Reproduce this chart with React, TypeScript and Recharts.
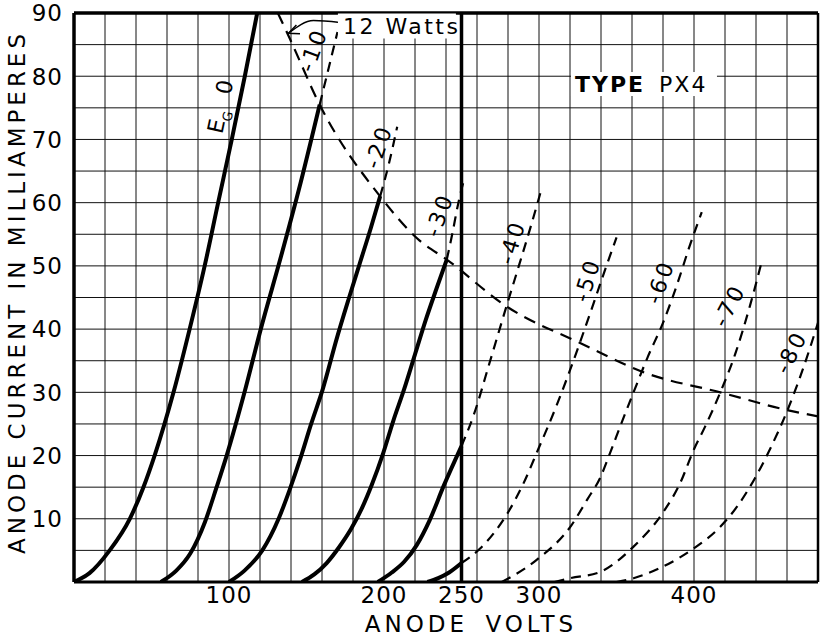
import { ComposedChart, Line, Scatter, XAxis, YAxis, CartesianGrid, ReferenceLine, Label } from 'recharts';

// anode volts / milliamps pairs
const egZero: number[][] = [[0, 0], [10, 1.4], [23, 5], [36, 10], [44.8, 15], [52, 20], [64.2, 30], [74.6, 40], [84.3, 50], [93, 60], [101.8, 70], [110.2, 80], [118.2, 90]];
const egMinus10: number[][] = [[56, 0], [66, 1.8], [75, 4.5], [84.5, 9.5], [92, 15], [98.5, 20], [110, 30], [120.5, 40], [133, 51], [145, 62], [158.5, 75.5]];
const egMinus10Over: number[][] = [[158.5, 75.5], [164, 81], [170, 87]];
const egMinus20: number[][] = [[100, 0], [110, 1.8], [121.5, 5], [132, 10], [139, 14.5], [146, 19.5], [153, 25], [160.5, 30.5], [169.5, 38.5], [177.5, 45], [184.5, 50.5], [191.5, 56], [197.5, 61]];
const egMinus20Over: number[][] = [[197.5, 61], [203, 66], [208.5, 72]];
const egMinus30: number[][] = [[147, 0], [155, 1.2], [163, 3], [171, 5.5], [179, 8.5], [186, 11.8], [192, 15.3], [199.5, 20.4], [206, 25.5], [213, 30.5], [220, 36], [227, 41.5], [234, 46.5], [240.5, 51]];
const egMinus30Over: number[][] = [[240.5, 51], [244, 55], [248, 60], [252, 64]];
const egMinus40: number[][] = [[196, 0], [205, 1.5], [213, 3.2], [221, 5.8], [229.5, 9.8], [238.5, 15.2], [250, 21.5]];
const egMinus40Over: number[][] = [[250, 21.5], [258, 26.5], [268.5, 35], [279, 43.6], [287, 50], [295, 56.5], [302, 62.5]];
const egMinus50: number[][] = [[228, 0], [235, 0.6], [242, 1.5], [250, 3]];
const egMinus50Over: number[][] = [[250, 3], [262, 5.3], [280, 11], [290, 15.6], [299.5, 21], [311, 27.7], [320, 33.5], [333, 42.5], [343.5, 50], [350, 54.5]];
const egMinus60Over: number[][] = [[276, 0], [298.5, 3.5], [321, 9], [331, 13], [339.5, 16.5], [346, 20.5], [353, 25], [361, 30], [370, 35.5], [380, 41], [389, 47], [397, 53], [405, 58.5]];
const egMinus70Over: number[][] = [[310, 0], [320, 0.6], [339.5, 1.6], [361, 5.6], [380, 11], [391, 15.6], [400, 21], [407, 24.5], [417, 30], [426.5, 36], [436, 43.6], [443.5, 50.5]];
const egMinus80Over: number[][] = [[350, 0], [361, 0.6], [378, 2.2], [401.5, 5.6], [416, 8.5], [428, 12], [439.5, 16.5], [449, 21], [460, 27], [470, 33.5], [480, 41]];
const twelveWatts: number[][] = [[131.5, 90], [139.5, 85.8], [158.5, 75.5], [197.5, 61], [223, 54], [240.5, 51], [279, 43.6], [326.5, 37.8], [369.5, 33], [417, 30], [460, 27.2], [480, 26.2]];
const arrowShaft: number[][] = [[138.3, 86.8], [154.5, 88.8], [171.5, 88.5]];
const arrowHead: number[][] = [[143.5, 88.1], [138.3, 86.8], [145.8, 86.7]];

const xGridTicks = [0, 20, 40, 60, 80, 100, 120, 140, 160, 180, 200, 220, 240, 250, 260, 280, 300, 320, 340, 360, 380, 400, 420, 440, 460, 480];
const xTickLabels = [100, 200, 250, 300, 400];
const yGridTicks = [0, 5, 10, 15, 20, 25, 30, 35, 40, 45, 50, 55, 60, 65, 70, 75, 80, 85, 90];
const yTickLabels = [10, 20, 30, 40, 50, 60, 70, 80, 90];

const curveNames = ['-10', '-20', '-30', '-40', '-50', '-60', '-70', '-80'];
const curveLabelV = [154.2, 196.3, 235.5, 282.4, 330.8, 378.1, 422.6, 462.6];
const curveLabelI = [84.2, 68.9, 58.1, 53.8, 47.8, 47.5, 43.8, 36.4];
const curveLabelTilt = [-70, -71, -70, -73, -73, -70, -62, -63];

const FONT = '"DejaVu Sans", sans-serif';

const pts = (arr: number[][]) => arr.map(([v, i]) => ({ v, i }));

const curveLabels = curveNames.map((text, k) => ({ v: curveLabelV[k], i: curveLabelI[k], text, angle: curveLabelTilt[k] }));
const gridZeroLabel = [{ v: 94.2, i: 75.2 }];
const wattsLabel = [{ v: 173.5, i: 86.6 }];
const typeLabel = [{ v: 323.2, i: 77.5 }];

function YTick(p: any) {
  if (!yTickLabels.includes(p.payload.value)) return <g />;
  return (
    <text x={p.x} y={p.y} dy="0.36em" textAnchor="end" fontSize={23} fontFamily={FONT} fill="#000" letterSpacing={1}>
      {p.payload.value}
    </text>
  );
}

function XTick(p: any) {
  if (!xTickLabels.includes(p.payload.value)) return <g />;
  return (
    <text x={p.x} y={p.y} dy="0.36em" textAnchor="middle" fontSize={23} fontFamily={FONT} fill="#000" letterSpacing={1}>
      {p.payload.value}
    </text>
  );
}

function CurveLabel(p: any) {
  const { cx, cy, payload } = p;
  return (
    <text x={cx} y={cy} dy="0.36em" textAnchor="middle" fontSize={22} fontFamily={FONT} fill="#000" letterSpacing={3}
      transform={`rotate(${payload.angle} ${cx} ${cy})`}>
      {payload.text}
    </text>
  );
}

function EgLabel(p: any) {
  const { cx, cy } = p;
  return (
    <text x={cx} y={cy} dy="0.36em" textAnchor="middle" fontSize={22} fontFamily={FONT} fill="#000"
      transform={`rotate(-78 ${cx} ${cy})`}>
      E<tspan fontSize={13} dy={6}>G</tspan><tspan dx={16} dy={-6}>0</tspan>
    </text>
  );
}

function WattsLabel(p: any) {
  const { cx, cy } = p;
  return (
    <g>
      <rect x={cx - 5} y={cy - 21} width={118} height={25} fill="#fff" />
      <text x={cx} y={cy} fontSize={22} fontFamily={FONT} fill="#000" letterSpacing={2.5}>12 Watts</text>
    </g>
  );
}

function TypeLabel(p: any) {
  const { cx, cy } = p;
  return (
    <g>
      <rect x={cx - 4} y={cy - 20} width={146} height={24} fill="#fff" />
      <text x={cx} y={cy} fontSize={22} fontFamily={FONT} fill="#000" letterSpacing={2}>
        <tspan fontWeight="bold">TYPE</tspan><tspan dx={14}>PX4</tspan>
      </text>
    </g>
  );
}

const solidCurves = [egZero, egMinus10, egMinus20, egMinus30, egMinus40, egMinus50];
const dashedCurves = [egMinus10Over, egMinus20Over, egMinus30Over, egMinus40Over, egMinus50Over, egMinus60Over, egMinus70Over, egMinus80Over];

export default function App() {
  return (
    <div style={{ position: 'absolute', left: 0, top: 0, background: '#fff' }}>
      <ComposedChart width={820} height={638} margin={{ top: 13, right: 2, left: 0, bottom: 0 }}>
        <CartesianGrid stroke="#111" strokeWidth={1} />
        <XAxis type="number" dataKey="v" domain={[0, 480]} ticks={xGridTicks} interval={0} allowDataOverflow
          height={56} tickSize={0} tickMargin={13} tick={XTick} axisLine={{ stroke: '#000', strokeWidth: 3 }} tickLine={false}>
          <Label content={(lp: any) => {
            const vb = lp.viewBox;
            return (
              <text x={vb.x + vb.width / 2 + 25} y={624} dy="0.36em" textAnchor="middle" fontSize={23} fontFamily={FONT}
                fill="#000" letterSpacing={4} wordSpacing={6}>ANODE VOLTS</text>
            );
          }} />
        </XAxis>
        <YAxis type="number" dataKey="i" domain={[0, 90]} ticks={yGridTicks} interval={0} allowDataOverflow
          width={74} tickSize={0} tickMargin={11} tick={YTick} axisLine={{ stroke: '#000', strokeWidth: 3.5 }} tickLine={false}>
          <Label content={() => (
            <text x={17} y={292} dy="0.36em" textAnchor="middle" fontSize={23} fontFamily={FONT} fill="#000"
              letterSpacing={4} transform="rotate(-90 17 292)">ANODE CURRENT IN MILLIAMPERES</text>
          )} />
        </YAxis>
        <ReferenceLine y={90} stroke="#000" strokeWidth={3.5} />
        <ReferenceLine x={480} stroke="#000" strokeWidth={2.5} />
        <ReferenceLine x={250} stroke="#000" strokeWidth={3.5} />
        <Scatter data={wattsLabel} dataKey="i" shape={WattsLabel} isAnimationActive={false} />
        <Scatter data={typeLabel} dataKey="i" shape={TypeLabel} isAnimationActive={false} />
        <Line data={pts(twelveWatts)} dataKey="i" type="monotone" dot={false} stroke="#000" strokeWidth={2.2}
          strokeDasharray="12 8" isAnimationActive={false} />
        {solidCurves.map((c, k) => (
          <Line key={'s' + k} data={pts(c)} dataKey="i" type="monotone" dot={false} stroke="#000" strokeWidth={4}
            isAnimationActive={false} />
        ))}
        {dashedCurves.map((c, k) => (
          <Line key={'d' + k} data={pts(c)} dataKey="i" type="monotone" dot={false} stroke="#000" strokeWidth={2.2}
            strokeDasharray="10 7" isAnimationActive={false} />
        ))}
        <Line data={pts(arrowShaft)} dataKey="i" type="monotone" dot={false} stroke="#000" strokeWidth={1.5} isAnimationActive={false} />
        <Line data={pts(arrowHead)} dataKey="i" type="linear" dot={false} stroke="#000" strokeWidth={1.5} isAnimationActive={false} />
        <Scatter data={curveLabels} dataKey="i" shape={CurveLabel} isAnimationActive={false} />
        <Scatter data={gridZeroLabel} dataKey="i" shape={EgLabel} isAnimationActive={false} />
      </ComposedChart>
    </div>
  );
}
